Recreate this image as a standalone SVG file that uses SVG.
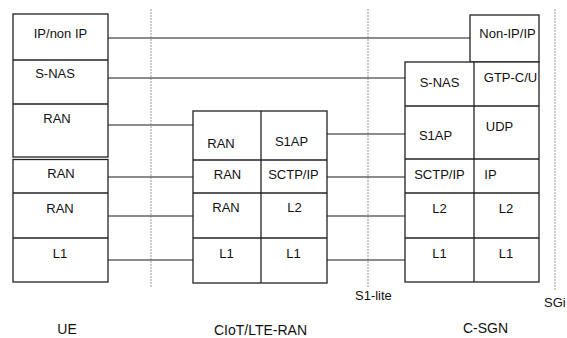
<svg xmlns="http://www.w3.org/2000/svg" width="567" height="338" viewBox="0 0 567 338">
<style>
.box{fill:#fff;stroke:#222;stroke-width:1.3}
.div{stroke:#222;stroke-width:1.3;fill:none}
.con{stroke:#666;stroke-width:1.4;fill:none}
.ref{stroke:#999;stroke-width:1;stroke-dasharray:2,1;fill:none}
text{font-family:"Liberation Sans",Arial,sans-serif;font-size:13px;fill:#111;text-anchor:middle}
.lbl{font-size:14px}
.st{text-anchor:start}
</style>
<rect width="567" height="338" fill="#fff"/>
<g id="reference-points">
<line class="ref" x1="151" y1="9" x2="151" y2="288"/>
<line class="ref" x1="368" y1="9" x2="368" y2="288"/>
<line class="ref" x1="555" y1="9" x2="555" y2="290"/>
<text class="st" x="355" y="300">S1-lite</text>
<text class="st" x="544" y="307">SGi</text>
</g>
<g id="connectors">
<line class="con" x1="108" y1="38" x2="470" y2="38"/>
<line class="con" x1="108" y1="78" x2="405" y2="78"/>
<line class="con" x1="108" y1="125" x2="193" y2="125"/>
<line class="con" x1="327" y1="134" x2="405" y2="134"/>
<line class="con" x1="108" y1="177" x2="193" y2="177"/>
<line class="con" x1="327" y1="177" x2="405" y2="177"/>
<line class="con" x1="108" y1="216" x2="193" y2="216"/>
<line class="con" x1="327" y1="216" x2="405" y2="216"/>
<line class="con" x1="108" y1="260" x2="193" y2="260"/>
<line class="con" x1="327" y1="260" x2="405" y2="260"/>
</g>
<g id="ue">
<rect class="box" x="13" y="14" width="95" height="143"/>
<line class="div" x1="13" y1="60" x2="108" y2="60"/>
<line class="div" x1="13" y1="104" x2="108" y2="104"/>
<rect class="box" x="13" y="159.5" width="95" height="122.5"/>
<line class="div" x1="13" y1="193" x2="108" y2="193"/>
<line class="div" x1="13" y1="238" x2="108" y2="238"/>
<text x="60.5" y="38">IP/non IP</text>
<text x="55" y="78">S-NAS</text>
<text x="57" y="123">RAN</text>
<text x="61" y="178">RAN</text>
<text x="60" y="213">RAN</text>
<text x="60" y="258">L1</text>
<text class="lbl" x="67" y="334">UE</text>
</g>
<g id="ciot-ran">
<rect class="box" x="193" y="111" width="134" height="172"/>
<line class="div" x1="261" y1="111" x2="261" y2="283"/>
<line class="div" x1="193" y1="160" x2="327" y2="160"/>
<line class="div" x1="193" y1="193" x2="327" y2="193"/>
<line class="div" x1="193" y1="238" x2="327" y2="238"/>
<text x="221" y="147.5">RAN</text>
<text x="291.5" y="146">S1AP</text>
<text x="227.5" y="178.5">RAN</text>
<text x="293.5" y="178.5">SCTP/IP</text>
<text x="226" y="212">RAN</text>
<text x="294.5" y="212">L2</text>
<text x="226.5" y="258">L1</text>
<text x="293.5" y="258">L1</text>
<text class="lbl" x="260.5" y="335">CIoT/LTE-RAN</text>
</g>
<g id="c-sgn">
<rect class="box" x="470" y="15" width="69" height="47"/>
<rect class="box" x="405" y="62" width="134" height="220"/>
<line class="div" x1="474" y1="62" x2="474" y2="282"/>
<line class="div" x1="405" y1="106" x2="539" y2="106"/>
<line class="div" x1="405" y1="159" x2="539" y2="159"/>
<line class="div" x1="405" y1="193" x2="539" y2="193"/>
<line class="div" x1="405" y1="238" x2="539" y2="238"/>
<text x="507.5" y="38">Non-IP/IP</text>
<text x="439.5" y="86.5">S-NAS</text>
<text x="510.5" y="81.5">GTP-C/U</text>
<text x="435.5" y="139.5">S1AP</text>
<text x="499.5" y="130.5">UDP</text>
<text x="439.5" y="178.5">SCTP/IP</text>
<text x="490.5" y="178.5">IP</text>
<text x="439.5" y="212.5">L2</text>
<text x="506" y="212.5">L2</text>
<text x="439.5" y="258">L1</text>
<text x="506" y="258">L1</text>
<text class="lbl" x="485.5" y="333">C-SGN</text>
</g>
</svg>
